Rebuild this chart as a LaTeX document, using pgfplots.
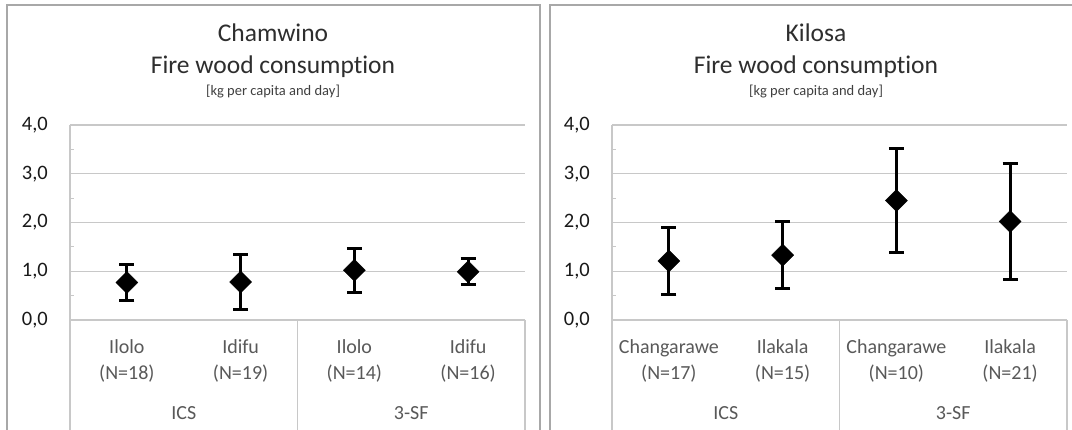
\documentclass[border=0pt]{standalone}
\usepackage{pgfplots}
\pgfplotsset{compat=1.18}
\usepackage{pgfplotstable}
\usepackage{fontspec}
\setmainfont{Carlito}[Ligatures=NoCommon]

\pgfplotstableread{
x y e
1 0.77 0.36
2 0.78 0.57
3 1.02 0.45
4 0.99 0.27
}\chamwino
\pgfplotstableread{
x y e
1 1.21 0.68
2 1.33 0.69
3 2.45 1.06
4 2.02 1.19
}\kilosa

\definecolor{gridc}{HTML}{C8C8C8}
\definecolor{framec}{HTML}{A8A8A8}

\pgfplotsset{
  panel/.style={
    at={(#1,110pt)}, anchor=south west,
    scale only axis, width=455pt, height=195pt,
    xmin=0.5, xmax=4.5, ymin=0, ymax=4,
    clip=false,
    axis x line*=bottom, axis y line*=left,
    axis line style={gridc, line width=1.2pt, -},
    ytick={0,1,2,3,4},
    yticklabels={{0,0},{1,0},{2,0},{3,0},{4,0}},
    minor ytick={0.5,1.5,2.5,3.5},
    tick align=inside,
    major tick length=0pt, minor tick length=4pt,
    minor tick style={gridc, line width=1pt},
    ymajorgrids, major grid style={gridc, line width=1.2pt},
    yticklabel style={font=\fontsize{20.5}{22}\selectfont, text=black!90, inner sep=0pt, anchor=east, xshift=-22pt},
    xtick={1,2,3,4},
    xticklabel style={align=center, font=\fontsize{20}{26}\selectfont, text=black!65, inner sep=0pt, anchor=north, yshift=-19pt},
  },
  errstyle/.style={
    only marks, mark=square*, mark size=7.8pt,
    mark options={rotate=45, black, fill=black},
    error bars/.cd, y dir=both, y explicit,
    error mark=|,
    error bar style={line width=3pt, black},
    error mark options={line width=3pt, mark size=7.5pt, black},
  },
}

\begin{document}
\begin{tikzpicture}
\path[use as bounding box] (0pt,0pt) rectangle (1072pt,430pt);
\fill[white] (0pt,0pt) rectangle (1072pt,430pt);
% panel frames
\draw[framec, line width=1.3pt] (7pt,-5pt) -- (7pt,425pt) -- (540pt,425pt) -- (540pt,-5pt);
\draw[framec, line width=1.3pt] (550pt,-5pt) -- (550pt,425pt) -- (1085pt,425pt) -- (1085pt,-5pt);

% titles
\node[font=\fontsize{25.5}{28}\selectfont, text=black!82] at (273pt,397pt) {Chamwino};
\node[font=\fontsize{25.5}{28}\selectfont, text=black!82] at (273pt,363pt) {Fire wood consumption};
\node[font=\fontsize{14.5}{16}\selectfont, text=black!75] at (273pt,338pt) {[kg per capita and day]};
\node[font=\fontsize{25.5}{28}\selectfont, text=black!82] at (816pt,397pt) {Kilosa};
\node[font=\fontsize{25.5}{28}\selectfont, text=black!82] at (816pt,363pt) {Fire wood consumption};
\node[font=\fontsize{14.5}{16}\selectfont, text=black!75] at (816pt,338pt) {[kg per capita and day]};

\begin{axis}[panel=70pt,
  xticklabels={{Ilolo\\(N=18)},{Idifu\\(N=19)},{Ilolo\\(N=14)},{Idifu\\(N=16)}}]
  \addplot+[errstyle] table[x=x, y=y, y error=e] {\chamwino};
  \draw[gridc, line width=1.2pt] (axis cs:0.5,0) -- ++(0pt,-130pt);
  \draw[gridc, line width=1.2pt] (axis cs:2.5,0) -- ++(0pt,-130pt);
  \draw[gridc, line width=1.2pt] (axis cs:4.5,0) -- ++(0pt,-130pt);
  \node[font=\fontsize{20}{22}\selectfont, text=black!65] at (axis cs:1.5,0) [yshift=-93pt] {ICS};
  \node[font=\fontsize{20}{22}\selectfont, text=black!65] at (axis cs:3.5,0) [yshift=-93pt] {3-SF};
\end{axis}

\begin{axis}[panel=612pt,
  xticklabels={{Changarawe\\(N=17)},{Ilakala\\(N=15)},{Changarawe\\(N=10)},{Ilakala\\(N=21)}}]
  \addplot+[errstyle] table[x=x, y=y, y error=e] {\kilosa};
  \draw[gridc, line width=1.2pt] (axis cs:0.5,0) -- ++(0pt,-130pt);
  \draw[gridc, line width=1.2pt] (axis cs:2.5,0) -- ++(0pt,-130pt);
  \draw[gridc, line width=1.2pt] (axis cs:4.5,0) -- ++(0pt,-130pt);
  \node[font=\fontsize{20}{22}\selectfont, text=black!65] at (axis cs:1.5,0) [yshift=-93pt] {ICS};
  \node[font=\fontsize{20}{22}\selectfont, text=black!65] at (axis cs:3.5,0) [yshift=-93pt] {3-SF};
\end{axis}
\end{tikzpicture}
\end{document}
